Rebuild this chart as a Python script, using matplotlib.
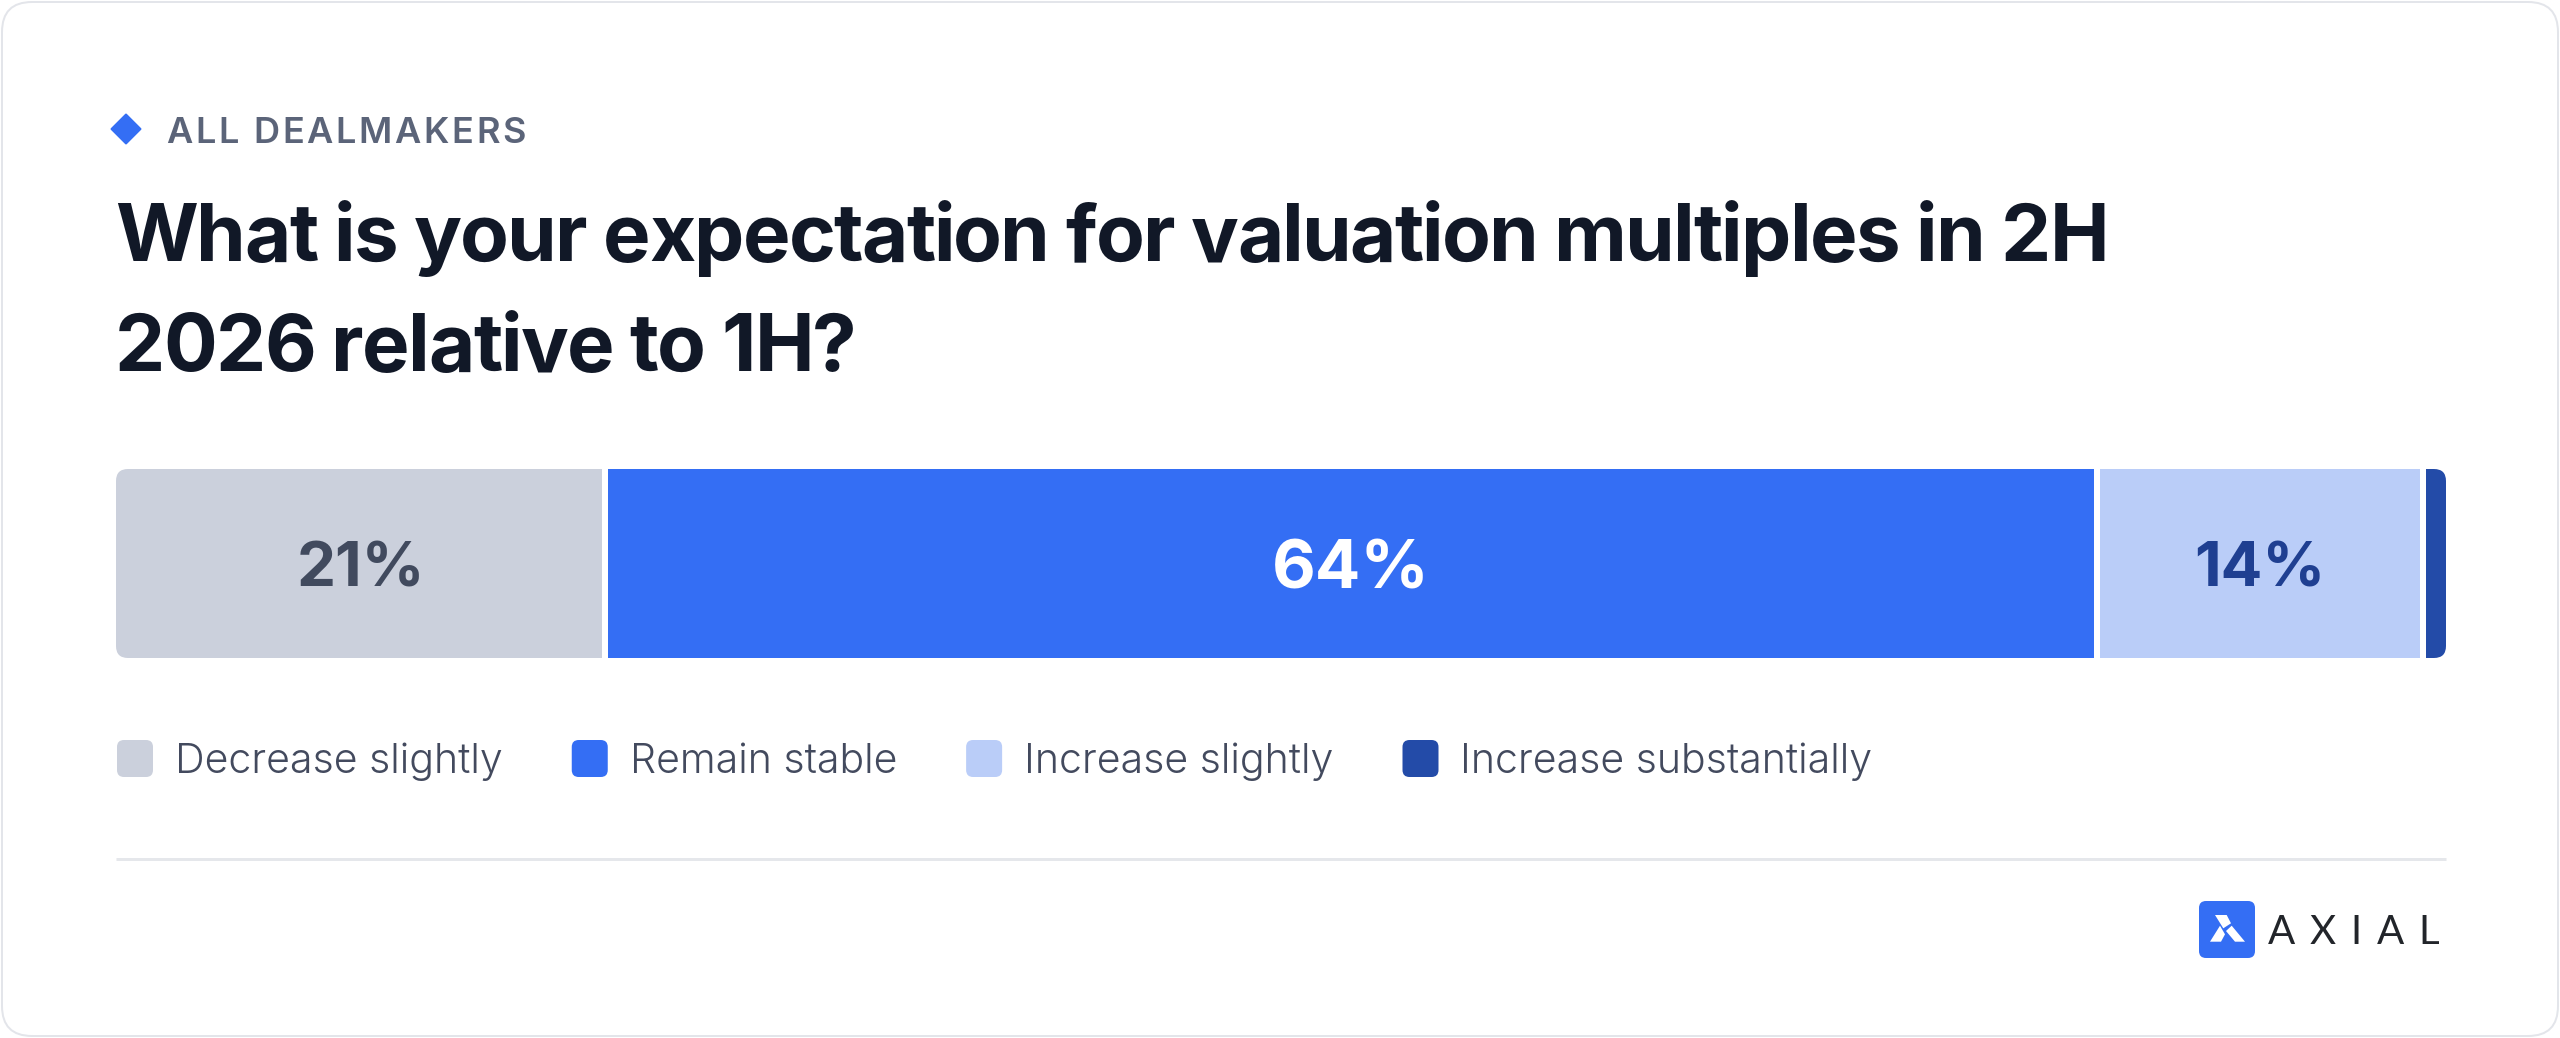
import matplotlib
matplotlib.use("Agg")
import matplotlib.pyplot as plt
import matplotlib.transforms as mtransforms
from matplotlib.patches import FancyBboxPatch, Polygon
import numpy as np

# ---------------- data ----------------
categories = ["Decrease slightly", "Remain stable", "Increase slightly", "Increase substantially"]
values = [21, 64, 14, 1]
colors = ["#cbd0dc", "#346ef4", "#bacdf8", "#234ba8"]
label_colors = ["#414a5e", "#ffffff", "#1f3f91", "#ffffff"]
eyebrow = "ALL DEALMAKERS"
title_lines = ["What is your expectation for valuation multiples in 2H",
               "2026 relative to 1H?"]
brand = "AXIAL"

# ---------------- figure ----------------
W, H = 2560, 1038
DPI = 100
PT = 72.0 / DPI  # points per pixel

plt.rcParams['font.family'] = ['Inter', 'DejaVu Sans']
fig = plt.figure(figsize=(W / DPI, H / DPI), dpi=DPI)
fig.patch.set_facecolor("white")
bg = fig.add_axes([0, 0, 1, 1])
bg.set_xlim(0, W)
bg.set_ylim(H, 0)
bg.axis("off")
renderer = fig.canvas.get_renderer()


def text_width(s, **kw):
    t = bg.text(0, 0, s, **kw)
    w = t.get_window_extent(renderer).width
    t.remove()
    return w


def natural_width(s, **kw):
    return text_width(s + "|", **kw) - text_width("|", **kw)


def spaced_text(x, y, s, spacing, **kw):
    ref = text_width("|", **kw)
    for i, ch in enumerate(s):
        if ch == " ":
            continue
        off = (text_width(s[:i] + "|", **kw) - ref) if i > 0 else 0
        bg.text(x + off + i * spacing, y, ch, **kw)


def fit_spacing(s, total_width, **kw):
    return (total_width - natural_width(s, **kw)) / max(len(s) - 1, 1)


# card
card = FancyBboxPatch((2, 2), W - 4, H - 4, boxstyle="round,pad=0,rounding_size=30",
                      fc="white", ec="#e3e5ea", lw=2 * PT, zorder=0)
bg.add_patch(card)

# eyebrow
bg.add_patch(Polygon([(126, 114.5), (140.5, 129), (126, 143.5), (111.5, 129)],
                     closed=True, fc="#346ef4", ec="#346ef4", lw=2 * PT, joinstyle="round"))
ekw = dict(fontsize=26, fontweight="semibold", color="#5b6479", va="baseline", ha="left")
spaced_text(166, 143, eyebrow, fit_spacing(eyebrow, 360, **ekw), **ekw)

# title (tight tracking)
tkw = dict(fontsize=57.5, fontweight="bold", color="#111827", va="baseline", ha="left")
tsp = fit_spacing(title_lines[0], 1994, **tkw)
for i, line in enumerate(title_lines):
    spaced_text(115, 261 + i * 110, line, tsp, **tkw)

# ---------------- stacked bar ----------------
bx0, bx1, by0, by1 = 116, 2446, 469, 658
ax = fig.add_axes([bx0 / W, 1 - by1 / H, (bx1 - bx0) / W, (by1 - by0) / H])
total = sum(values)
lefts = np.concatenate([[0], np.cumsum(values)[:-1]])
bars = ax.barh(0, values, left=lefts, height=1.0, color=colors, linewidth=0)
ax.set_xlim(0, total)
ax.set_ylim(-0.5, 0.5)
ax.axis("off")
clip = FancyBboxPatch((0, 0), 1, 1,
                      boxstyle="round,pad=0,rounding_size=%f" % (12.0 / (bx1 - bx0)),
                      mutation_aspect=(bx1 - bx0) / (by1 - by0),
                      transform=ax.transAxes, fc="none", ec="none")
ax.add_patch(clip)
for b in bars:
    b.set_clip_path(clip)
for xb in np.cumsum(values)[:-1]:
    ax.axvline(xb, color="white", lw=6 * PT)

blend = mtransforms.blended_transform_factory(ax.transData, bg.transData)
for v, l, c in zip(values, lefts, label_colors):
    if v < 5:
        continue
    big = v == max(values)
    cap = 49 if big else 45
    fs = cap / 0.727 * PT
    ax.text(l + v / 2, 564 + cap / 2, f"{v}%", transform=blend, ha="center",
            va="baseline", fontsize=fs, fontweight="bold", color=c)

# ---------------- legend ----------------
lkw = dict(fontsize=29.6, fontweight=300, color="#434a5e", va="baseline", ha="left")
x = 117
for cat, col in zip(categories, colors):
    bg.add_patch(FancyBboxPatch((x, 740), 36, 37, boxstyle="round,pad=0,rounding_size=7",
                                fc=col, ec="none"))
    tx = x + 58
    bg.text(tx, 773, cat, **lkw)
    x = tx + text_width(cat, **lkw) + 69

# separator
bg.plot([116, 2446], [859, 859], color="#e5e7eb", lw=3 * PT, solid_capstyle="butt")

# ---------------- logo ----------------
lx, ly = 2199, 901
bg.add_patch(FancyBboxPatch((lx, ly), 56, 57, boxstyle="round,pad=0,rounding_size=7",
                            fc="#346ef4", ec="none"))
for poly in ([(16, 14), (27.7, 14), (32, 22.3), (24.3, 27.3)],
             [(27, 30), (32.7, 24.7), (46, 40.7), (36, 40.7)],
             [(11, 40.7), (21, 24.7), (26, 33.3), (22, 40.7)]):
    bg.add_patch(Polygon([(lx + px, ly + py) for px, py in poly], closed=True,
                         fc="white", ec="none"))
bkw = dict(fontsize=29, fontweight="normal", color="#22252a", va="baseline", ha="left",
           family=["Lato", "DejaVu Sans"])
spaced_text(2268, 944, brand, fit_spacing(brand, 171, **bkw), **bkw)

fig.savefig("out.png", dpi=DPI, facecolor="white")
